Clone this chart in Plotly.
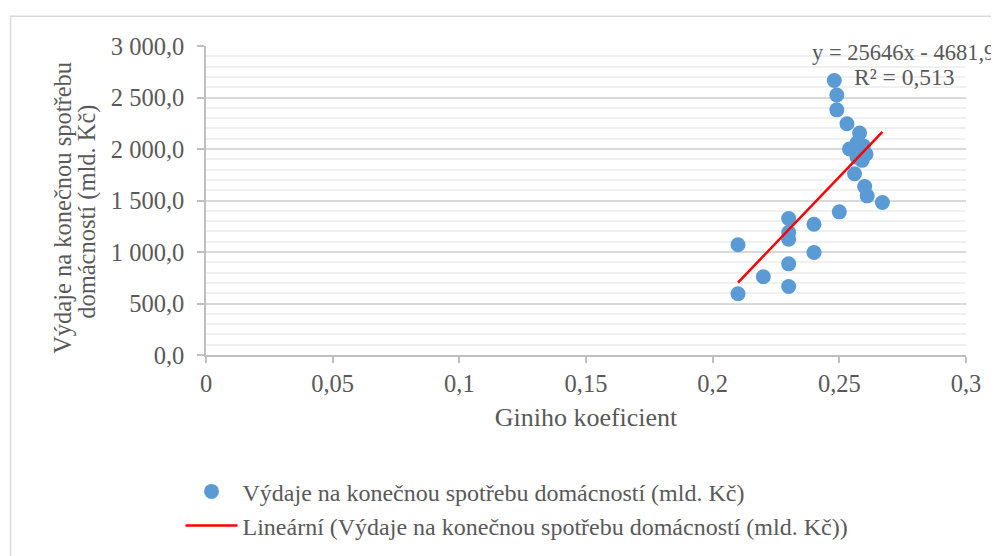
import plotly.graph_objects as go

# ---------------- data ----------------
gini = [0.21, 0.23, 0.22, 0.23, 0.24, 0.21, 0.23, 0.23, 0.24, 0.23,
        0.25, 0.267, 0.261, 0.260, 0.256, 0.259, 0.257, 0.2605, 0.254, 0.2595,
        0.257, 0.258, 0.253, 0.249, 0.249, 0.248]
vydaje = [595, 665, 760, 885, 995, 1070, 1125, 1190, 1270, 1325,
          1390, 1480, 1545, 1635, 1760, 1890, 1920, 1950, 2000, 2030,
          2060, 2155, 2245, 2380, 2525, 2665]

slope = 25646
intercept = -4681.9
r2_text = "R² = 0,513"
eq_text = "y = 25646x - 4681,9"

series_name = "Výdaje na konečnou spotřebu domácností (mld. Kč)"
trend_name = "Lineární (Výdaje na konečnou spotřebu domácností (mld. Kč))"
x_title = "Giniho koeficient"
y_title_lines = ["Výdaje na konečnou spotřebu", "domácností (mld. Kč)"]

x_tickvals = [0, 0.05, 0.1, 0.15, 0.2, 0.25, 0.3]
x_ticktext = ["0", "0,05", "0,1", "0,15", "0,2", "0,25", "0,3"]
y_tickvals = [0, 500, 1000, 1500, 2000, 2500, 3000]
y_ticktext = ["0,0", "500,0", "1 000,0", "1 500,0", "2 000,0", "2 500,0", "3 000,0"]

# ---------------- layout geometry (page pixels) ----------------
PAGE_W, PAGE_H = 999, 556
OFF = 8                      # default body margin of the html page
W, H = PAGE_W - OFF, PAGE_H - OFF
L, R = 205.5, 965.7          # plot area left/right (page px)
T, B = 45.7, 354.7           # plot area top/bottom (page px)
PW, PH = R - L, B - T

def px2x(px):
    return (px - L) / PW

def px2y(py):
    return (B - py) / PH

FONT = "Liberation Serif, Times New Roman, serif"
TXT = "#595959"

x_lo, x_hi = min(gini), max(gini)
trend_x = [x_lo, x_hi]
trend_y = [slope * v + intercept for v in trend_x]

fig = go.Figure()
fig.add_trace(go.Scatter(
    x=gini, y=vydaje, mode="markers", name=series_name,
    marker=dict(color="#5b9bd5", size=15, line=dict(width=0)),
))
fig.add_trace(go.Scatter(
    x=trend_x, y=trend_y, mode="lines", name=trend_name,
    line=dict(color="#ff0000", width=2.5),
))

fig.update_layout(
    width=W, height=H,
    margin=dict(l=L - OFF, r=PAGE_W - R, t=T - OFF, b=PAGE_H - B, autoexpand=False),
    paper_bgcolor="white", plot_bgcolor="white",
    font=dict(family=FONT, size=24, color=TXT),
    showlegend=True,
    legend=dict(
        x=px2x(180), y=px2y(469), xanchor="left", yanchor="top",
        font=dict(family=FONT, size=24, color=TXT),
        bgcolor="rgba(0,0,0,0)", itemwidth=52,
    ),
    xaxis=dict(
        range=[0, 0.3], tickvals=x_tickvals, ticktext=x_ticktext,
        showgrid=False, zeroline=False,
        showline=True, linecolor="#bfbfbf", linewidth=1.5,
        ticks="outside", ticklen=6, tickcolor="#bfbfbf", tickwidth=1.5,
        ticklabelstandoff=0,
        tickfont=dict(family=FONT, size=24.5, color=TXT),
        title=dict(text=x_title, standoff=12,
                   font=dict(family=FONT, size=26, color=TXT)),
    ),
    yaxis=dict(
        range=[0, 3000], tickvals=y_tickvals, ticktext=y_ticktext,
        showgrid=True, gridcolor="#d9d9d9", gridwidth=1.5,
        zeroline=False,
        showline=True, linecolor="#bfbfbf", linewidth=1.5,
        ticks="outside", ticklen=7, tickcolor="#bfbfbf", tickwidth=1.5,
        ticklabelstandoff=8,
        tickfont=dict(family=FONT, size=24.5, color=TXT),
        minor=dict(dtick=100, showgrid=True, gridcolor="#f0f0f0", gridwidth=1.5),
    ),
    shapes=[dict(
        type="rect", xref="paper", yref="paper",
        x0=px2x(10), x1=px2x(1010), y0=px2y(570), y1=px2y(16),
        line=dict(color="#d9d9d9", width=1.5), fillcolor="rgba(0,0,0,0)",
        layer="below",
    )],
    annotations=[
        dict(text=y_title_lines[0], xref="paper", yref="paper",
             x=px2x(62), y=px2y(208), textangle=-90, showarrow=False,
             xanchor="center", yanchor="middle",
             font=dict(family=FONT, size=24.5, color=TXT)),
        dict(text=y_title_lines[1], xref="paper", yref="paper",
             x=px2x(87), y=px2y(212), textangle=-90, showarrow=False,
             xanchor="center", yanchor="middle",
             font=dict(family=FONT, size=24.5, color=TXT)),
        dict(text=eq_text, xref="paper", yref="paper",
             x=px2x(997), y=px2y(52), showarrow=False,
             xanchor="right", yanchor="middle",
             font=dict(family=FONT, size=22.5, color=TXT)),
        dict(text=r2_text, xref="paper", yref="paper",
             x=px2x(852), y=px2y(77), showarrow=False,
             xanchor="left", yanchor="middle",
             font=dict(family=FONT, size=23.5, color=TXT)),
    ],
)

fig.write_html("out.html")
